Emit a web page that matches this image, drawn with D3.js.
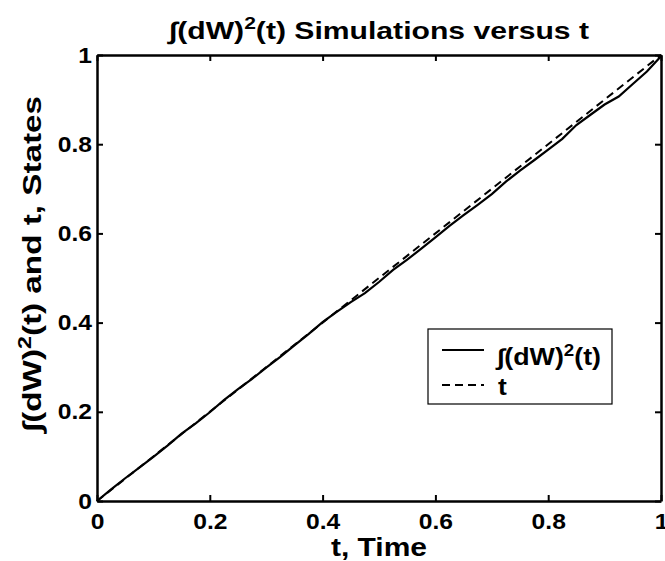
<!DOCTYPE html>
<html>
<head>
<meta charset="utf-8">
<script src="https://cdn.jsdelivr.net/npm/d3@7"></script>
<style>
  body { margin: 0; background: #fff; }
  text { font-family: "Liberation Sans", Arial, sans-serif; font-weight: bold; fill: #000; }
</style>
</head>
<body>
<div id="chartArea"></div>
<script>
// simulated integral of (dW)^2
const tVals = [0, 0.025, 0.05, 0.075, 0.1, 0.125, 0.15, 0.175, 0.2, 0.225, 0.25, 0.275, 0.3, 0.325, 0.35, 0.375, 0.4,
  0.425, 0.45, 0.475, 0.5, 0.525, 0.55, 0.575, 0.6, 0.625, 0.65, 0.675, 0.7, 0.725, 0.75, 0.775, 0.8,
  0.825, 0.85, 0.875, 0.9, 0.925, 0.95, 0.975, 1.0];
const wVals = [0, 0.026, 0.051, 0.075, 0.099, 0.124, 0.151, 0.174, 0.199, 0.226, 0.251, 0.274, 0.299, 0.323, 0.349, 0.374, 0.401,
  0.424, 0.446, 0.466, 0.491, 0.518, 0.541, 0.566, 0.591, 0.617, 0.641, 0.664, 0.688, 0.716, 0.741, 0.764, 0.788,
  0.812, 0.843, 0.866, 0.889, 0.907, 0.935, 0.963, 0.997];
// reference line t
const refT = [0, 1];
const xTicks = [0, 0.2, 0.4, 0.6, 0.8, 1];
const yTicks = [0, 0.2, 0.4, 0.6, 0.8, 1];

const W = 665, H = 561;
const m = {left: 97, right: 4, top: 55, bottom: 60};

const svg = d3.select("#chartArea").append("svg")
  .attr("width", W).attr("height", H);

const x = d3.scaleLinear().domain([0, 1]).range([m.left, W - m.right]);
const y = d3.scaleLinear().domain([0, 1]).range([H - m.bottom, m.top]);

// the picture's lettering is a bit wider than Arial, so stretch it
function stretch(sel, k) {
  sel.each(function () {
    const len = this.getComputedTextLength();
    d3.select(this).attr("textLength", len * k).attr("lengthAdjust", "spacingAndGlyphs");
  });
}
function fitTo(sel, w) {
  sel.attr("textLength", w).attr("lengthAdjust", "spacingAndGlyphs");
}

// data lines
const line = d3.line().x(d => x(d[0])).y(d => y(d[1]));
svg.append("path")
  .datum(tVals.map((t, i) => [t, wVals[i]]))
  .attr("d", line).attr("fill", "none")
  .attr("stroke", "#000").attr("stroke-width", 2.2);
svg.append("path")
  .datum(refT.map(t => [t, t]))
  .attr("d", line).attr("fill", "none")
  .attr("stroke", "#000").attr("stroke-width", 2)
  .attr("stroke-dasharray", "8,5");

// axes, ticks inward, box
svg.append("g").attr("transform", `translate(0,${y(0)})`)
  .call(d3.axisBottom(x).tickValues(xTicks).tickFormat(d3.format("~g")).tickSizeInner(-6).tickSizeOuter(0).tickPadding(12));
svg.append("g").attr("transform", `translate(0,${y(1)})`)
  .call(d3.axisTop(x).tickValues(xTicks).tickFormat("").tickSizeInner(-6).tickSizeOuter(0));
svg.append("g").attr("transform", `translate(${x(0)},0)`)
  .call(d3.axisLeft(y).tickValues(yTicks).tickFormat(d3.format("~g")).tickSizeInner(-6).tickSizeOuter(0).tickPadding(5));
svg.append("g").attr("transform", `translate(${x(1)},0)`)
  .call(d3.axisRight(y).tickValues(yTicks).tickFormat("").tickSizeInner(-6).tickSizeOuter(0));

svg.selectAll(".domain").attr("stroke", "#000").attr("stroke-width", 2.5);
svg.selectAll(".tick line").attr("stroke", "#000").attr("stroke-width", 2);
svg.selectAll(".tick text").attr("font-size", 22).attr("font-family", null).call(stretch, 1.12);

// label with integral and superscript
function intLabel(sel, size, rest) {
  sel.append("tspan").text("∫");
  sel.append("tspan").text("(dW)");
  sel.append("tspan").attr("dy", -size * 0.4).attr("font-size", size * 0.7).text("2");
  sel.append("tspan").attr("dy", size * 0.4).text("(t)" + rest);
}

const title = svg.append("text")
  .attr("x", (x(0) + x(1)) / 2).attr("y", 39)
  .attr("text-anchor", "middle").attr("font-size", 24);
intLabel(title, 24, " Simulations versus t");
fitTo(title, 420);

svg.append("text")
  .attr("x", (x(0) + x(1)) / 2).attr("y", 556)
  .attr("text-anchor", "middle").attr("font-size", 25)
  .text("t, Time")
  .call(stretch, 1.2);

const ylab = svg.append("text")
  .attr("transform", `translate(41,264) rotate(-90)`)
  .attr("text-anchor", "middle").attr("font-size", 26);
intLabel(ylab, 26, " and t, States");
fitTo(ylab, 336);

// legend
const lg = svg.append("g");
lg.append("rect").attr("x", 428).attr("y", 329).attr("width", 184).attr("height", 75)
  .attr("fill", "#fff").attr("stroke", "#000").attr("stroke-width", 1.2);
lg.append("line").attr("x1", 442).attr("x2", 484).attr("y1", 350).attr("y2", 350)
  .attr("stroke", "#000").attr("stroke-width", 2.2);
lg.append("line").attr("x1", 442).attr("x2", 484).attr("y1", 385).attr("y2", 385)
  .attr("stroke", "#000").attr("stroke-width", 2).attr("stroke-dasharray", "8,5");
const l1 = lg.append("text").attr("x", 497).attr("y", 365).attr("font-size", 23);
intLabel(l1, 23, "");
fitTo(l1, 104);
lg.append("text").attr("x", 498).attr("y", 395).attr("font-size", 23).text("t")
  .call(stretch, 1.15);
</script>
</body>
</html>
